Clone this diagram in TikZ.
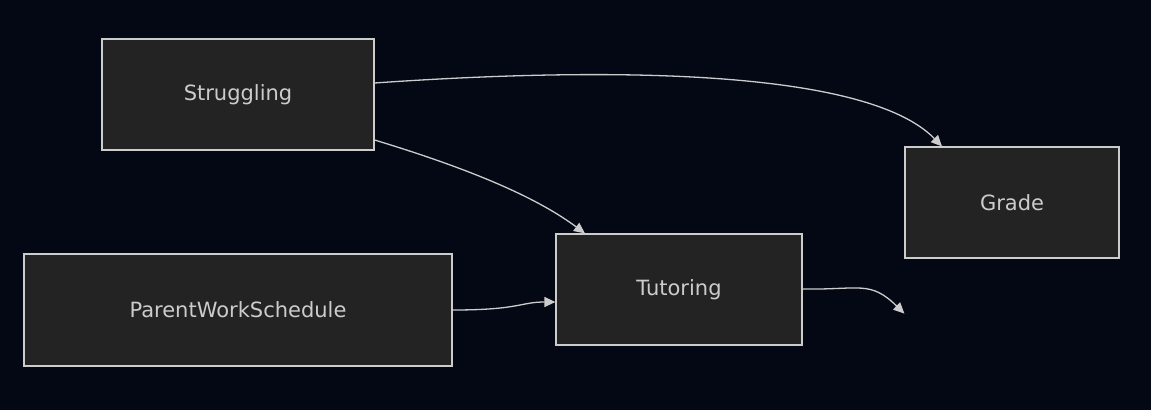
\documentclass[tikz,border=0pt]{standalone}
\usepackage{fontspec}
\setmainfont{DejaVu Sans}
\usetikzlibrary{arrows.meta}
\definecolor{bg}{HTML}{030814}
\definecolor{boxfill}{HTML}{222322}
\definecolor{edge}{HTML}{CCCCCC}
\tikzset{
  box/.style={draw=edge, fill=boxfill, line width=1.2pt, text=edge, font=\fontsize{21}{24}\selectfont, inner sep=0pt},
  conn/.style={draw=edge, line width=1.3pt, -{Triangle[length=11pt,width=10pt]}}
}
\begin{document}
\begin{tikzpicture}[x=1pt,y=-1pt]
\fill[bg] (0,0) rectangle (1151,410);
\useasboundingbox (0,0) rectangle (1151,410);
\node[box, minimum width=272pt, minimum height=111pt] (s) at (238,94.5) {Struggling};
\node[box, minimum width=428pt, minimum height=112pt] (p) at (238,310) {ParentWorkSchedule};
\node[box, minimum width=246pt, minimum height=111pt] (t) at (679,289.5) {Tutoring};
\node[box, minimum width=214pt, minimum height=111pt] (g) at (1012,202.5) {Grade};
\draw[conn] (s.east |- 0,83) .. controls (560,70) and (860,62) .. ([xshift=-70pt]g.north);
\draw[conn] (s.east |- 0,140) .. controls (480,172) and (540,200) .. ([xshift=-94pt]t.north);
\draw[conn] (p.east) .. controls (520,310) and (520,302) .. (t.west |- 0,302);
\draw[conn] (t.east |- 0,289) .. controls (860,290) and (870,280) .. ([yshift=-55pt]g.west |- g.south);
\end{tikzpicture}
\end{document}
